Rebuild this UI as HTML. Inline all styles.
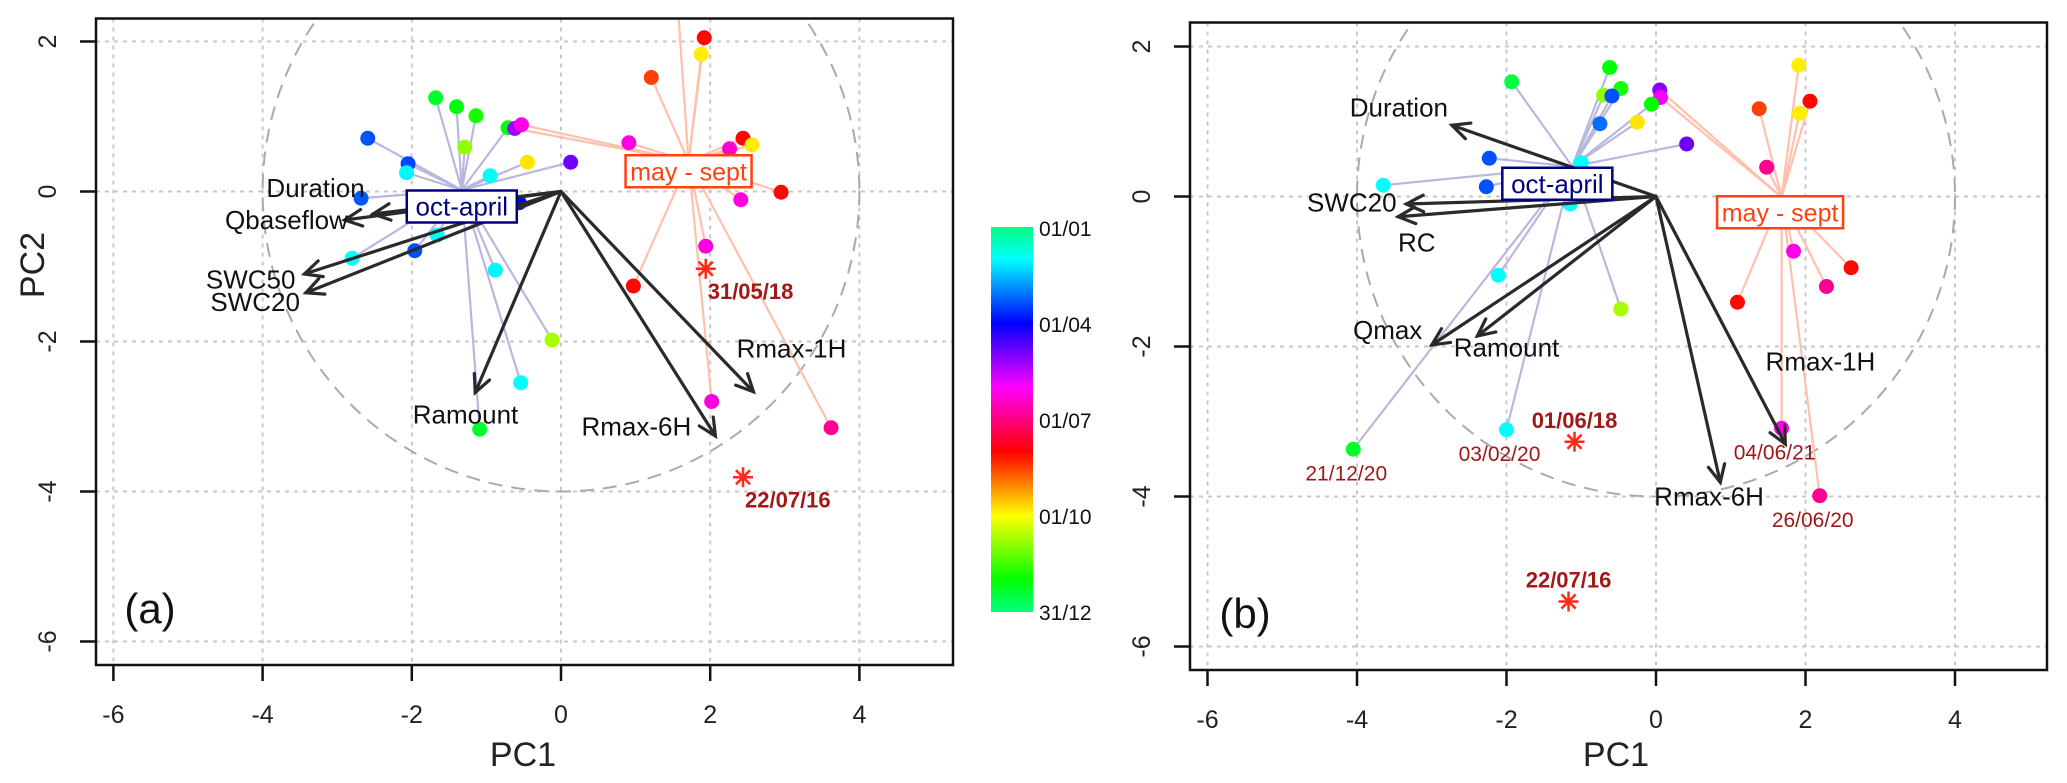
<!DOCTYPE html>
<html><head><meta charset="utf-8"><style>
body{margin:0;background:#fff}
svg{display:block;font-family:"Liberation Sans",sans-serif}
</style></head><body>
<svg id="chart" width="2067" height="783" viewBox="0 0 2067 783" xmlns="http://www.w3.org/2000/svg">
<defs>
<clipPath id="clipA"><rect x="96" y="18.5" width="857" height="646.5"/></clipPath>
<clipPath id="clipB"><rect x="1190" y="22.5" width="857" height="647.5"/></clipPath>
<linearGradient id="cbar" x1="0" y1="0" x2="0" y2="1">
<stop offset="0" stop-color="hsl(150,100%,50%)"/><stop offset="0.0833" stop-color="hsl(180,100%,50%)"/>
<stop offset="0.1667" stop-color="hsl(210,100%,50%)"/><stop offset="0.25" stop-color="hsl(240,100%,50%)"/>
<stop offset="0.3333" stop-color="hsl(270,100%,50%)"/><stop offset="0.4167" stop-color="hsl(300,100%,50%)"/>
<stop offset="0.5" stop-color="hsl(330,100%,50%)"/><stop offset="0.5833" stop-color="hsl(360,100%,50%)"/>
<stop offset="0.6667" stop-color="hsl(30,100%,50%)"/><stop offset="0.75" stop-color="hsl(60,100%,50%)"/>
<stop offset="0.8333" stop-color="hsl(90,100%,50%)"/><stop offset="0.9167" stop-color="hsl(120,100%,50%)"/>
<stop offset="1" stop-color="hsl(150,100%,50%)"/>
</linearGradient>
</defs>
<g id="panelA"></g>
<g id="panelB"></g>
<g>
<rect x="991" y="227" width="42" height="385" fill="url(#cbar)"/>
<g font-size="21" fill="#111">
<text x="1039" y="236">01/01</text>
<text x="1039" y="332">01/04</text>
<text x="1039" y="428">01/07</text>
<text x="1039" y="524">01/10</text>
<text x="1039" y="620">31/12</text>
</g></g>
</svg>
<script>
// ---------- Panel A data ----------
const aPointsX = [-1.68,-1.40,-1.14,-0.71,-0.62,-0.53,-2.59,-1.29,-2.05,-2.07,-0.45,0.13,-0.95,-2.68,-0.56,-1.66,-2.80,-1.96,-0.88,-0.12,-0.54,-1.09,
  1.92,1.88,1.21,0.91,2.44,2.56,2.26,2.95,2.41,1.94,0.97,2.02,3.62,1.55];
const aPointsY = [1.25,1.13,1.01,0.85,0.84,0.89,0.71,0.59,0.37,0.25,0.39,0.39,0.21,-0.09,-0.15,-0.58,-0.89,-0.79,-1.05,-1.98,-2.55,-3.17,
  2.05,1.83,1.52,0.65,0.71,0.62,0.57,-0.01,-0.11,-0.73,-1.26,-2.80,-3.15,2.7];
const aPointsDoy = [345,338,330,340,130,158,72,300,75,32,268,118,28,70,90,30,30,72,32,295,30,345,
  215,270,228,160,215,270,163,215,160,160,215,160,178,215];
const aGroup = [1,1,1,1,0,0,1,1,1,1,1,1,1,1,1,1,1,1,1,1,1,1, 0,0,0,0,0,0,0,0,0,0,0,0,0,0];
const aCentroidX = [1.71,-1.33];
const aCentroidY = [0.40,0.02];
const aArrowNames = ["Duration","Qbaseflow","SWC50","SWC20","Ramount","Rmax-6H","Rmax-1H"];
const aArrowX = [-2.52,-2.90,-3.44,-3.42,-1.15,2.07,2.58];
const aArrowY = [-0.30,-0.38,-1.10,-1.35,-2.68,-3.26,-2.67];
const aStarX = [1.94,2.44];
const aStarY = [-1.03,-3.81];
const aStarLabels = ["31/05/18","22/07/16"];
// ---------- Panel B data ----------
const bPointsX = [-1.93,-0.62,-0.47,-0.70,-0.59,0.05,0.06,-0.06,-0.25,-0.75,0.41,-2.23,-1.00,-3.65,-2.27,-1.15,-2.11,-0.47,-2.00,-4.05,
  1.91,2.06,1.38,1.92,1.48,1.84,2.61,2.28,1.09,1.68,2.19];
const bPointsY = [1.53,1.72,1.44,1.35,1.34,1.42,1.32,1.23,0.99,0.97,0.70,0.51,0.45,0.15,0.13,-0.10,-1.05,-1.50,-3.11,-3.37,
  1.75,1.27,1.17,1.11,0.39,-0.73,-0.95,-1.20,-1.41,-3.09,-3.99];
const bPointsDoy = [350,335,330,300,72,125,150,335,268,65,118,72,30,30,72,30,30,295,30,345,
  270,215,228,270,178,158,215,178,215,158,178];
const bGroup = [1,1,1,1,1,0,0,1,1,1,1,1,1,1,1,1,1,1,1,1, 0,0,0,0,0,0,0,0,0,0,0];
const bCentroidX = [1.68,-1.12];
const bCentroidY = [-0.01,0.40];
const bArrowNames = ["Duration","SWC20","RC","Qmax","Ramount","Rmax-6H","Rmax-1H"];
const bArrowX = [-2.73,-3.34,-3.45,-3.00,-2.39,0.86,1.73];
const bArrowY = [0.95,-0.10,-0.27,-1.98,-1.86,-3.81,-3.30];
const bStarX = [-1.09,-1.17];
const bStarY = [-3.27,-5.40];
const bStarLabels = ["01/06/18","22/07/16"];
const bDateLabels = ["03/02/20","21/12/20","04/06/21","26/06/20"];
const bDateIdx = [18,19,29,30];
const ticksX = [-6,-4,-2,0,2,4];
const ticksY = [2,0,-2,-4,-6];
const circleR = 4;

const NS = "http://www.w3.org/2000/svg";
function mk(tag, attrs, parent){const e=document.createElementNS(NS,tag);for(const k in attrs)e.setAttribute(k,attrs[k]);parent.appendChild(e);return e;}
function hueColor(d){return "hsl("+((150+360*d/365)%360).toFixed(0)+",100%,50%)";}

function panel(g, P){
  const X=v=>P.x0+v*P.sx, Y=v=>P.y0-v*P.sy;
  const bx=P.box;
  const grid=mk('g',{},g);
  
  
  ticksX.forEach(t=>{const l=mk('line',{x1:X(t),x2:X(t),y1:bx[1],y2:bx[3],stroke:'#c8c8c8','stroke-width':2,'stroke-dasharray':'4,5'},grid);
    });
  ticksY.forEach(t=>{const l=mk('line',{x1:bx[0],x2:bx[2],y1:Y(t),y2:Y(t),stroke:'#c8c8c8','stroke-width':2,'stroke-dasharray':'4,5'},grid);
    });
  const inner=mk('g',{'clip-path':'url(#'+P.clip+')'},g);
  
  
  const c=mk('ellipse',{cx:X(0),cy:Y(0),rx:circleR*P.sx,ry:circleR*P.sy,fill:'none',stroke:'#aaa','stroke-width':2,'stroke-dasharray':'14,9'},inner);
  
  
  const lineCols=['#ffc0ac','#b8b8dd'];
  P.px.forEach((v,i)=>{const gi=P.grp[i];
    const l=mk('line',{x1:X(v),y1:Y(P.py[i]),x2:X(P.cx[gi]),y2:Y(P.cy[gi]),stroke:lineCols[gi],'stroke-width':2.2},inner);
    });
  P.px.forEach((v,i)=>{const p=mk('circle',{cx:X(v),cy:Y(P.py[i]),r:7.5,fill:hueColor(P.doy[i])},inner);
    });
  P.ax.forEach((v,i)=>{const x2=X(v),y2=Y(P.ay[i]),x1=X(0),y1=Y(0);
    const ag=mk('g',{stroke:'#2a2a2a','stroke-width':3.2,fill:'none','stroke-linecap':'round'},inner);
    
    mk('line',{x1,y1,x2,y2},ag);
    const a=Math.atan2(y2-y1,x2-x1),L=19,w=0.45;
    mk('polyline',{points:(x2-L*Math.cos(a-w))+','+(y2-L*Math.sin(a-w))+' '+x2+','+y2+' '+(x2-L*Math.cos(a+w))+','+(y2-L*Math.sin(a+w))},ag);
  });
  P.stx.forEach((v,i)=>{const x=X(v),y=Y(P.sty[i]);const sg=mk('g',{stroke:'#ff2a1a','stroke-width':2.5},inner);
    
    for(let k=0;k<4;k++){const a=k*Math.PI/4,r=10;mk('line',{x1:x-r*Math.cos(a),y1:y-r*Math.sin(a),x2:x+r*Math.cos(a),y2:y+r*Math.sin(a)},sg);}
  });
  const f=mk('rect',{x:bx[0],y:bx[1],width:bx[2]-bx[0],height:bx[3]-bx[1],fill:'none',stroke:'#111','stroke-width':2.5},g);
  
  const xa=mk('g',{},g);
  
  ticksX.forEach(t=>{mk('line',{x1:X(t),x2:X(t),y1:bx[3],y2:bx[3]+16,stroke:'#111','stroke-width':2.5},xa);
    const tx=mk('text',{x:X(t),y:bx[3]+58,'text-anchor':'middle','font-size':25,fill:'#222'},xa);tx.textContent=String(t);
    });
  const ya=mk('g',{},g);
  
  ticksY.forEach(t=>{mk('line',{x1:bx[0]-16,x2:bx[0],y1:Y(t),y2:Y(t),stroke:'#111','stroke-width':2.5},ya);
    const lx=bx[0]-40;
    const tx=mk('text',{x:lx,y:Y(t),'text-anchor':'middle','font-size':25,fill:'#222',transform:'rotate(-90 '+lx+' '+Y(t)+')'},ya);tx.textContent=String(t);
    });
  const xt=mk('text',{x:P.xtitle,y:766,'text-anchor':'middle','font-size':34,fill:'#222'},g);xt.textContent='PC1';
  
  return {X,Y};
}
function txt(g,x,y,s,attrs,name){const t=mk('text',Object.assign({x,y,'font-size':26,fill:'#111','text-anchor':'middle'},attrs||{}),g);t.textContent=s;
  return t;}
function labelBox(g,cx,cy,s,col,w,fs,name){const b=mk('g',{},g);
  mk('rect',{x:cx-w/2,y:cy-16,width:w,height:32,fill:'#fff',stroke:col,'stroke-width':2.5},b);
  const t=mk('text',{x:cx,y:cy+9,'text-anchor':'middle','font-size':fs,fill:col},b);t.textContent=s;}

// Panel A
const gA=document.getElementById('panelA');
const sA=panel(gA,{x0:561,sx:74.6,y0:191.5,sy:75,box:[96,18.5,953,665],clip:'clipA',px:aPointsX,py:aPointsY,doy:aPointsDoy,grp:aGroup,cx:aCentroidX,cy:aCentroidY,
  ax:aArrowX,ay:aArrowY,an:aArrowNames,stx:aStarX,sty:aStarY,xtitle:523});
txt(gA,0,0,'PC2',{'font-size':34,fill:'#222',transform:'translate(44 265) rotate(-90)'},'y-axis-title');
const aLab=[[-3.29,0.05],[-3.68,-0.38],[-4.16,-1.17],[-4.10,-1.47],[-1.28,-2.97],[1.01,-3.13],[3.09,-2.09]];
aArrowNames.forEach((n,i)=>txt(gA,sA.X(aLab[i][0]),sA.Y(aLab[i][1])+9,n,{},'arrow-label-'+n.toLowerCase()));
aStarLabels.forEach((s,i)=>txt(gA,sA.X(aStarX[i])+2,sA.Y(aStarY[i])+30,s,{'text-anchor':'start','font-weight':'bold','font-size':22,fill:'#a01818'},'star-date-label'));
labelBox(gA,sA.X(-1.33),sA.Y(-0.2),'oct-april','#000080',110,26,'group-label-oct-april');
labelBox(gA,sA.X(1.71),sA.Y(0.27),'may - sept','#ff4010',126,25,'group-label-may-sept');
txt(gA,150,623,'(a)',{'font-size':42,fill:'#111'},'panel-label-a');

// Panel B
const gB=document.getElementById('panelB');
const sB=panel(gB,{x0:1656,sx:74.75,y0:196.5,sy:75,box:[1190,22.5,2047,670],clip:'clipB',px:bPointsX,py:bPointsY,doy:bPointsDoy,grp:bGroup,cx:bCentroidX,cy:bCentroidY,
  ax:bArrowX,ay:bArrowY,an:bArrowNames,stx:bStarX,sty:bStarY,xtitle:1616});
const bLab=[[-3.44,1.19],[-4.07,-0.08],[-3.2,-0.61],[-3.59,-1.78],[-2.0,-2.01],[0.71,-4.0],[2.2,-2.2]];
bArrowNames.forEach((n,i)=>txt(gB,sB.X(bLab[i][0]),sB.Y(bLab[i][1])+9,n,{},'arrow-label-'+n.toLowerCase()));
bStarLabels.forEach((s,i)=>txt(gB,sB.X(bStarX[i]),sB.Y(bStarY[i])-14,s,{'font-weight':'bold','font-size':22,fill:'#a01818'},'star-date-label'));
bDateIdx.forEach((k,i)=>txt(gB,sB.X(bPointsX[k])-7,sB.Y(bPointsY[k])+31,bDateLabels[i],{'font-size':21,fill:'#a01818'},'point-date-label'));
labelBox(gB,sB.X(-1.32),sB.Y(0.17),'oct-april','#000080',110,26,'group-label-oct-april');
labelBox(gB,sB.X(1.66),sB.Y(-0.21),'may - sept','#ff4010',126,25,'group-label-may-sept');
txt(gB,1245,628,'(b)',{'font-size':42,fill:'#111'},'panel-label-b');
</script>
</body></html>
